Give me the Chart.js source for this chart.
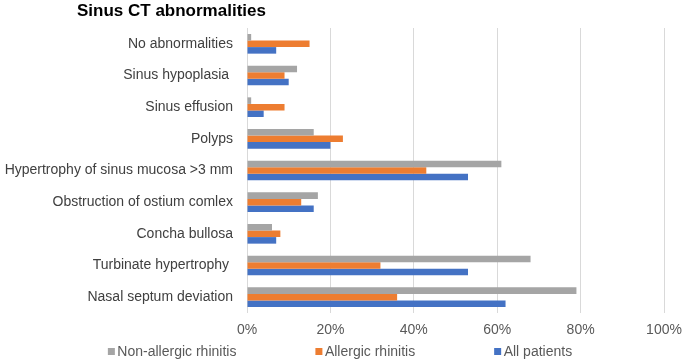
<!DOCTYPE html>
<html>
<head>
<meta charset="utf-8">
<script src="https://cdn.jsdelivr.net/npm/chart.js@4/dist/chart.umd.min.js"></script>
<style>
  html, body { margin: 0; padding: 0; background: #ffffff; }
  #wrap { position: relative; width: 685px; height: 361px; }
</style>
</head>
<body>
<div id="wrap"><canvas id="sinus-ct-chart"></canvas></div>
<script>
// Categories listed top to bottom as they appear in the chart.
const categories = [
  "No abnormalities",
  "Sinus hypoplasia ",
  "Sinus effusion",
  "Polyps",
  "Hypertrophy of sinus mucosa >3 mm",
  "Obstruction of ostium comlex",
  "Concha bullosa",
  "Turbinate hypertrophy ",
  "Nasal septum deviation"
];

// Percentages.
const nonAllergicRhinitis = [1, 12, 1, 16, 61, 17, 6, 68, 79];
const allergicRhinitis = [15, 9, 9, 23, 43, 13, 8, 32, 36];
const allPatients = [7, 10, 4, 20, 53, 16, 7, 53, 62];

const xTickValues = [0, 20, 40, 60, 80, 100];
const chartTitle = "Sinus CT abnormalities";

const FONT = "Arial, 'Liberation Sans', sans-serif";

// Title and a spaced-out legend are drawn here because the built-in ones
// cannot be placed the way the original (Excel) chart places them.
const titleAndLegendPlugin = {
  id: "titleAndLegend",
  afterDraw(chart) {
    const ctx = chart.ctx;
    ctx.save();

    ctx.fillStyle = "#000000";
    ctx.font = "bold 17px " + FONT;
    ctx.textAlign = "left";
    ctx.textBaseline = "alphabetic";
    ctx.fillText(chartTitle, 77, 16);

    ctx.font = "14px " + FONT;
    ctx.textBaseline = "middle";
    const box = 7;
    const boxGap = 2.5;
    const itemGap = 79;
    const items = chart.data.datasets.map((ds) => ({
      text: ds.label,
      color: ds.backgroundColor,
      width: box + boxGap + ctx.measureText(ds.label).width
    }));
    const total = items.reduce((sum, item) => sum + item.width, 0) + itemGap * (items.length - 1);
    let x = 340 - total / 2;
    const y = 351.5;

    items.forEach((item) => {
      ctx.fillStyle = item.color;
      ctx.fillRect(x, y - box / 2, box, box);
      ctx.fillStyle = "#595959";
      ctx.fillText(item.text, x + box + boxGap, y + 1);
      x += item.width + itemGap;
    });

    ctx.restore();
  }
};

new Chart(document.getElementById("sinus-ct-chart"), {
  type: "bar",
  data: {
    labels: categories,
    datasets: [
      {
        label: "Non-allergic rhinitis",
        data: nonAllergicRhinitis,
        backgroundColor: "#A5A5A5"
      },
      {
        label: "Allergic rhinitis",
        data: allergicRhinitis,
        backgroundColor: "#ED7D31"
      },
      {
        label: "All patients",
        data: allPatients,
        backgroundColor: "#4472C4"
      }
    ]
  },
  options: {
    indexAxis: "y",
    responsive: true,
    maintainAspectRatio: false,
    animation: false,
    categoryPercentage: 0.62,
    barPercentage: 1.0,
    layout: {
      padding: { top: 28, right: 21, bottom: 0, left: 0 }
    },
    plugins: {
      legend: { display: false },
      title: { display: false },
      tooltip: { enabled: false }
    },
    scales: {
      x: {
        min: 0,
        max: 100,
        afterBuildTicks: (scale) => {
          scale.ticks = xTickValues.map((value) => ({ value }));
        },
        afterFit: (scale) => {
          scale.height = 48;
          scale.paddingLeft = 0;
          scale.paddingRight = 0;
        },
        ticks: {
          padding: 9,
          color: "#595959",
          font: { family: FONT, size: 14 },
          callback: (value) => value + "%"
        },
        grid: {
          color: "#D9D9D9",
          lineWidth: 1,
          drawTicks: false
        },
        border: { display: false }
      },
      y: {
        afterFit: (scale) => {
          scale.width = 247;
        },
        ticks: {
          padding: 14,
          color: "#404040",
          font: { family: FONT, size: 14 }
        },
        grid: { display: false, drawTicks: false },
        border: { display: false }
      }
    }
  },
  plugins: [titleAndLegendPlugin]
});
</script>
</body>
</html>
